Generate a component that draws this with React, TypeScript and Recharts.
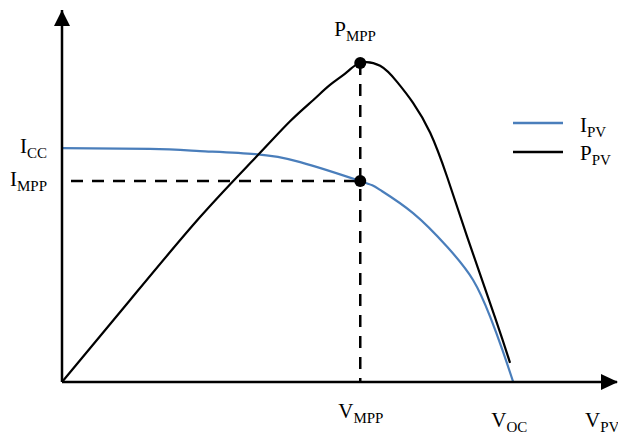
import React from 'react';
import {
  LineChart,
  Line,
  XAxis,
  YAxis,
  ReferenceLine,
  ReferenceDot,
  Legend,
} from 'recharts';

// Per-unit values: voltage relative to Voc, current relative to Icc, power relative to Pmpp
const V_MPP = 0.661;
const V_OC = 1.0;
const I_CC = 1.0;
const I_MPP = 0.859;
const P_MPP = 1.0;

const X_MAX = 1.23;
const I_MAX = 1.59;
const P_MAX = 1.166;

const ivVoltage = [0, 0.195, 0.306, 0.428, 0.528, 0.661, 0.705, 0.778, 0.854, 0.911, 0.949, 0.976, 1.0];
const ivCurrent = [1.0, 0.996, 0.987, 0.974, 0.94, 0.859, 0.821, 0.722, 0.577, 0.436, 0.278, 0.137, 0];

const pvVoltage = [0, 0.151, 0.306, 0.428, 0.506, 0.557, 0.594, 0.632, 0.661, 0.705, 0.743, 0.778, 0.816, 0.854, 0.898, 0.96, 0.993];
const pvPower = [0, 0.257, 0.517, 0.702, 0.818, 0.884, 0.931, 0.972, 1.0, 0.991, 0.94, 0.875, 0.781, 0.641, 0.455, 0.201, 0.06];

const xTicks = [V_MPP, V_OC];
const xTickLabels = [['V', 'MPP'], ['V', 'OC']];
const yTicks = [I_CC, I_MPP];
const yTickLabels = [['I', 'CC'], ['I', 'MPP']];

const ivData = ivVoltage.map((v, k) => ({ v, i: ivCurrent[k] }));
const pvData = pvVoltage.map((v, k) => ({ v, p: pvPower[k] }));

const BLUE = '#4a7ebb';
const FONT = '"Liberation Serif", "Times New Roman", serif';

function SubText({ x, y, main, sub, anchor = 'start' }: any) {
  return (
    <text x={x} y={y} textAnchor={anchor} style={{ fontFamily: FONT, fontSize: 21 }} fill="#000">
      <tspan>{main}</tspan>
      <tspan style={{ fontSize: 15 }} dy={5}>{sub}</tspan>
    </text>
  );
}

const XTick = ({ x, y, payload }: any) => {
  const idx = xTicks.indexOf(payload.value);
  if (idx < 0) return null;
  const [main, sub] = xTickLabels[idx];
  const dy = idx === 0 ? 0 : 9;
  return <SubText x={x - 22} y={y + dy} main={main} sub={sub} />;
};

const YTick = ({ x, y, payload }: any) => {
  const idx = yTicks.indexOf(payload.value);
  if (idx < 0) return null;
  const [main, sub] = yTickLabels[idx];
  return <SubText x={x} y={y + 5} main={main} sub={sub} anchor="end" />;
};

const ArrowRight = ({ cx, cy }: any) => (
  <polygon points={`${cx - 16},${cy - 8} ${cx + 1},${cy} ${cx - 16},${cy + 8}`} fill="#000" />
);

const ArrowUp = ({ cx, cy }: any) => (
  <polygon points={`${cx - 8},${cy + 16} ${cx},${cy} ${cx + 8},${cy + 16}`} fill="#000" />
);

const PeakDot = ({ cx, cy }: any) => (
  <g>
    <circle cx={cx} cy={cy} r={6} fill="#000" />
    <SubText x={cx - 26} y={cy - 27} main="P" sub="MPP" />
  </g>
);

const legendItems = [
  { color: BLUE, main: 'I', sub: 'PV' },
  { color: '#000', main: 'P', sub: 'PV' },
];

const LegendBox = () => (
  <svg width={113} height={64}>
    {legendItems.map((it, k) => (
      <g key={it.main}>
        <line x1={8} x2={58} y1={18 + k * 29} y2={18 + k * 29} stroke={it.color} strokeWidth={2.5} />
        <SubText x={75} y={27 + k * 28} main={it.main} sub={it.sub} />
      </g>
    ))}
  </svg>
);

export default function App() {
  return (
    <div style={{ position: 'absolute', left: 0, top: 0, background: '#fff' }}>
      <LineChart width={618} height={434} margin={{ top: 10, right: 1, bottom: 0, left: 0 }}>
        <XAxis
          dataKey="v"
          type="number"
          domain={[0, X_MAX]}
          ticks={xTicks}
          tick={<XTick />}
          tickLine={false}
          tickSize={0}
          tickMargin={36}
          height={52}
          axisLine={{ stroke: '#000', strokeWidth: 2.5 }}
          allowDataOverflow
          label={(props: any) => {
            const vb = props.viewBox;
            return <SubText x={vb.x + vb.width - 32} y={vb.y + 45} main="V" sub="PV" />;
          }}
        />
        <YAxis
          yAxisId="i"
          type="number"
          domain={[0, I_MAX]}
          ticks={yTicks}
          tick={<YTick />}
          tickLine={false}
          tickSize={0}
          tickMargin={15}
          width={62}
          axisLine={{ stroke: '#000', strokeWidth: 2.5 }}
          allowDataOverflow
        />
        <YAxis yAxisId="p" orientation="right" type="number" domain={[0, P_MAX]} hide />

        <Legend
          layout="vertical"
          align="center"
          verticalAlign="middle"
          wrapperStyle={{ left: 505, top: 105, width: 113 }}
          content={() => <LegendBox />}
        />

        <ReferenceLine
          yAxisId="i"
          segment={[{ x: 0, y: I_MPP }, { x: V_MPP, y: I_MPP }]}
          stroke="#000"
          strokeWidth={2.5}
          strokeDasharray="12 9"
          strokeDashoffset={12}
        />
        <ReferenceLine
          yAxisId="p"
          segment={[{ x: V_MPP, y: P_MPP }, { x: V_MPP, y: 0 }]}
          stroke="#000"
          strokeWidth={2.5}
          strokeDasharray="12 9"
        />

        <Line
          yAxisId="i"
          data={ivData}
          dataKey="i"
          type="natural"
          stroke={BLUE}
          strokeWidth={2.2}
          dot={false}
          activeDot={false}
          isAnimationActive={false}
        />
        <Line
          yAxisId="p"
          data={pvData}
          dataKey="p"
          type="natural"
          stroke="#000"
          strokeWidth={2.2}
          dot={false}
          activeDot={false}
          isAnimationActive={false}
        />

        <ReferenceDot yAxisId="i" x={V_MPP} y={I_MPP} r={6} fill="#000" stroke="none" />
        <ReferenceDot yAxisId="p" x={V_MPP} y={P_MPP} shape={<PeakDot />} />
        <ReferenceDot yAxisId="i" x={X_MAX} y={0} shape={<ArrowRight />} ifOverflow="visible" />
        <ReferenceDot yAxisId="i" x={0} y={I_MAX} shape={<ArrowUp />} ifOverflow="visible" />
      </LineChart>
    </div>
  );
}
